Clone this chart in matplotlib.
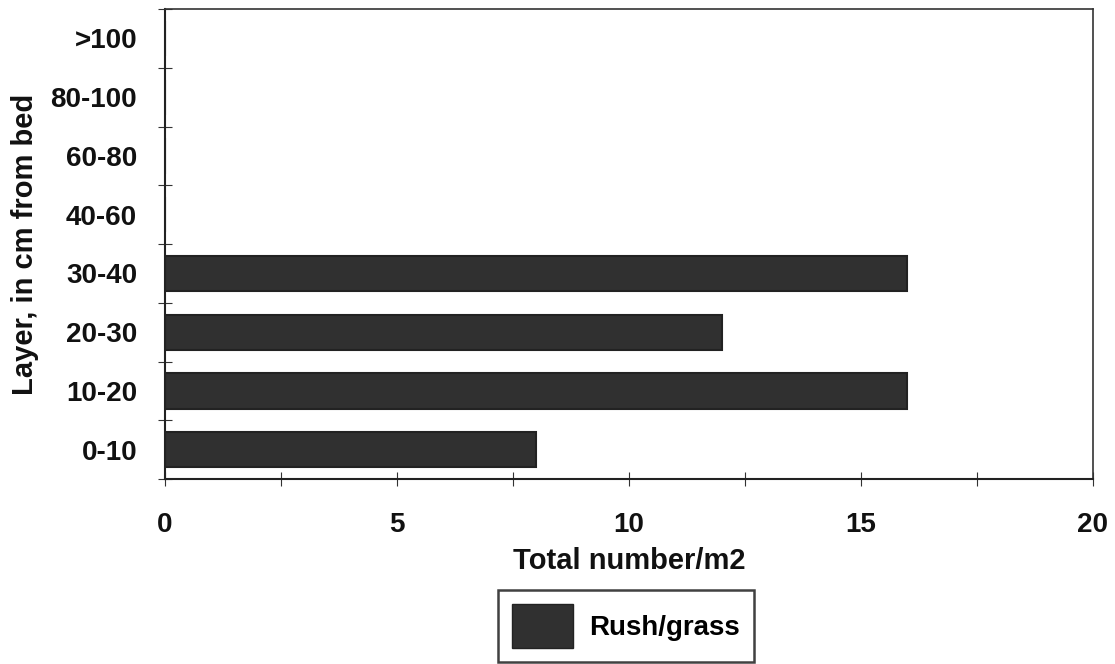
import matplotlib
matplotlib.use("Agg")
import matplotlib.pyplot as plt
import numpy as np
from matplotlib.patches import Patch

categories = ["0-10", "10-20", "20-30", "30-40", "40-60", "60-80", "80-100", ">100"]
values = [8, 16, 12, 16, 0, 0, 0, 0]
xticks = [0, 5, 10, 15, 20]
series_name = "Rush/grass"

plt.rcParams['font.family'] = ['Liberation Sans', 'DejaVu Sans']
plt.rcParams['font.weight'] = 'bold'

fig = plt.figure(figsize=(11.15, 6.64), dpi=100)
ax = fig.add_axes([165/1115, 1-479/664, (1093-165)/1115, (479-9)/664])

y = np.arange(len(categories))
ax.barh(y, values, height=0.6, color="#303030", edgecolor="#222222", linewidth=1.5)

ax.set_xlim(0, 20)
ax.set_ylim(-0.5, len(categories) - 0.5)
ax.set_xticks(xticks)
ax.set_xticklabels([str(t) for t in xticks], fontsize=20, fontweight='bold')
ax.set_xticks(np.arange(2.5, 20, 5), minor=True)
ax.tick_params(axis='x', which='both', direction='inout', length=10, width=0.8, pad=19, colors='#333333', labelcolor='#111111')

ax.set_yticks(y)
ax.set_yticklabels(categories, fontsize=20, fontweight='bold')
ax.set_yticks(np.arange(-0.5, len(categories), 1.0), minor=True)
ax.tick_params(axis='y', which='major', length=0, pad=20, labelcolor='#111111')
ax.tick_params(axis='y', which='minor', direction='inout', length=10, width=0.8, colors='#333333')

for s in ['top', 'right']:
    ax.spines[s].set_linewidth(1.2)
    ax.spines[s].set_color('#333333')
for s in ['left', 'bottom']:
    ax.spines[s].set_linewidth(1.5)
    ax.spines[s].set_color('#222222')

ax.set_xlabel("Total number/m2", fontsize=21, fontweight='bold', labelpad=6, color='#111111')
ax.set_ylabel("Layer, in cm from bed", fontsize=21, fontweight='bold', labelpad=8, color='#111111')

leg = fig.legend(handles=[Patch(facecolor="#303030", edgecolor="#222222", label=series_name)],
                 loc='center', bbox_to_anchor=(626/1115, 1-626/664),
                 prop={'weight': 'bold', 'size': 20}, frameon=True, fancybox=False,
                 handlelength=2.2, handleheight=2.1, borderpad=0.5, handletextpad=0.6)
leg.get_frame().set_edgecolor('#111111')
leg.get_frame().set_linewidth(1.8)

fig.savefig("out.png", dpi=100)
